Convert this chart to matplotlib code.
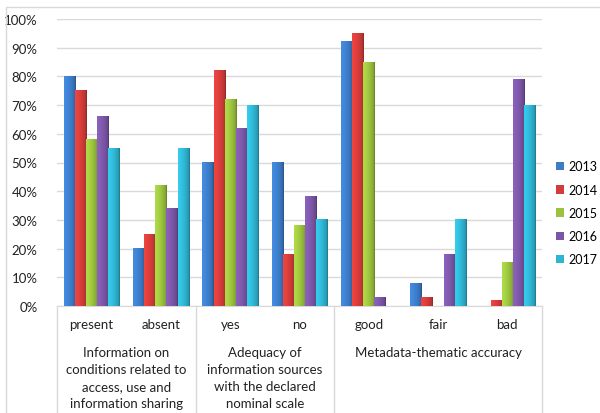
import matplotlib.pyplot as plt
import matplotlib.patches as mpatches
import matplotlib.colors as mcolors
import numpy as np

plt.rcParams['font.family'] = ['Lato', 'DejaVu Sans']

# Data
categories = ['present', 'absent', 'yes', 'no', 'good', 'fair', 'bad']
groups = ['Information on\nconditions related to\naccess, use and\ninformation sharing',
          'Adequacy of\ninformation sources\nwith the declared\nnominal scale',
          'Metadata-thematic accuracy']
group_sizes = [2, 2, 3]
years = ['2013', '2014', '2015', '2016', '2017']
v2013 = [80, 20, 50, 50, 92, 8, 0]
v2014 = [75, 25, 82, 18, 95, 3, 2]
v2015 = [58, 42, 72, 28, 85, 0, 15]
v2016 = [66, 34, 62, 38, 3, 18, 79]
v2017 = [55, 55, 70, 30, 0, 30, 70]
series = [v2013, v2014, v2015, v2016, v2017]
colors = ['#3C7CC8', '#D33C3A', '#9BC23E', '#7B56A6', '#2FB4D2']

W, H = 600, 414
fig = plt.figure(figsize=(W / 100, H / 100), dpi=100)
ax = fig.add_axes([57 / W, (H - 307) / H, 485 / W, 287 / H])

# Outer chart border
fig.patches.append(mpatches.Rectangle((6 / W, -0.1), 1.2, (H - 8) / H + 0.1,
                                      transform=fig.transFigure, fill=False,
                                      edgecolor='#D9D9D9', lw=1))


def shade(color, n=24):
    # cylinder-like horizontal gradient
    base = np.array(mcolors.to_rgb(color))
    t = np.linspace(0, 1, n)
    k = 1.15 - 0.25 * t - 0.2 * (t - 0.3) ** 2
    k[-2:] *= 0.85
    rgb = np.clip(base[None, :] * k[:, None], 0, 1)
    return rgb[None, :, :]


bw = 0.16
x = np.arange(len(categories))
for j, vals in enumerate(series):
    for i, v in enumerate(vals):
        if v <= 0:
            continue
        x0 = x[i] + (j - 2) * bw - bw / 2
        ax.imshow(shade(colors[j]), extent=[x0, x0 + bw, 0, v / 100],
                  aspect='auto', zorder=3, interpolation='bilinear')

ax.set_xlim(-0.5, len(categories) - 0.5)
ax.set_ylim(0, 1)
ax.set_yticks(np.arange(0, 1.01, 0.1))
ax.set_yticklabels([f'{int(round(t * 100))}%' for t in np.arange(0, 1.01, 0.1)],
                   fontsize=9.5, color='#222222')
ax.tick_params(axis='y', length=0, pad=14)
ax.set_xticks([])
ax.grid(axis='y', color='#D9D9D9', lw=1)
ax.set_axisbelow(True)
for s in ['top', 'right', 'left']:
    ax.spines[s].set_visible(False)
ax.spines['bottom'].set_color('#D9D9D9')

# Multi-level category axis
trans = ax.get_xaxis_transform()
for i, c in enumerate(categories):
    ax.text(x[i], -18 / 287, c, transform=trans, ha='center', va='center',
            fontsize=9.5, color='#222222')
edges = np.concatenate([[0], np.cumsum(group_sizes)]) - 0.5
for e in edges:
    ax.plot([e, e], [0, -120 / 287], transform=trans, color='#D9D9D9',
            lw=1, clip_on=False)
for g, name in enumerate(groups):
    cx = (edges[g] + edges[g + 1]) / 2
    ax.text(cx, -40 / 287, name, transform=trans, ha='center', va='top',
            fontsize=9.5, color='#222222', linespacing=1.5)

handles = [mpatches.Patch(facecolor=c, edgecolor='none') for c in colors]
fig.legend(handles, years, loc='center left', bbox_to_anchor=(556 / W, (H - 214) / H),
           frameon=False, fontsize=9, handlelength=0.65, handleheight=0.65,
           handletextpad=0.35, labelspacing=0.9, borderpad=0, borderaxespad=0)

fig.savefig('out.png', dpi=100)
